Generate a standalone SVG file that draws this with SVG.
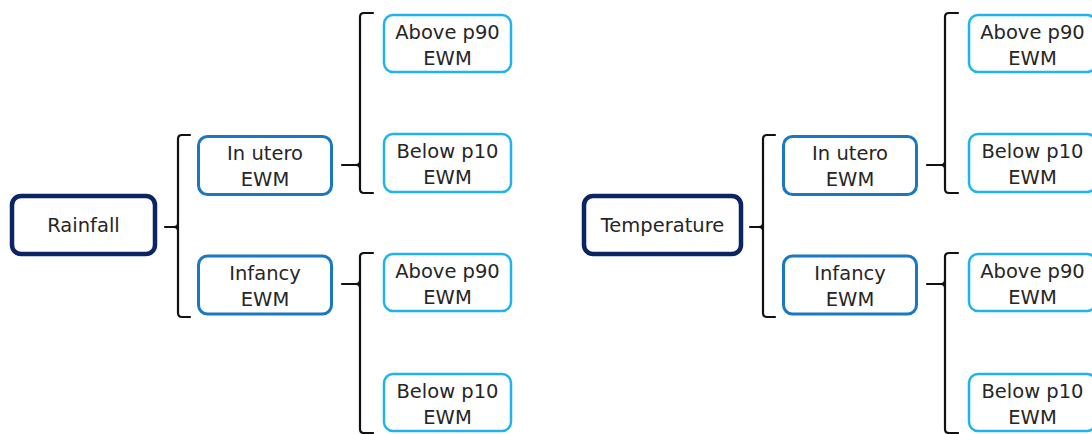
<svg xmlns="http://www.w3.org/2000/svg" width="1092" height="434" viewBox="0 0 1092 434">
  <style>
    .root { fill: #ffffff; stroke: #0b2463; stroke-width: 4.5; }
    .mid { fill: #ffffff; stroke: #1a78c2; stroke-width: 3; }
    .leaf { fill: #ffffff; stroke: #1fb4ee; stroke-width: 2.5; }
    .brace { fill: none; stroke: #111111; stroke-width: 2.2; stroke-linecap: round; stroke-linejoin: round; }
    text { font-family: "DejaVu Sans", "Liberation Sans", sans-serif; font-size: 19.5px; fill: #262626; text-anchor: middle; }
  </style>

  <!-- connectors: square brackets with a small pointed nub toward the parent -->
  <g id="connectors">
    <!-- Rainfall tree -->
    <path class="brace" d="M190,135 H182 Q178,135 178,139 V313 Q178,317 182,317 H190 M165,227 H174 Q178,227 178,223 M174,227 Q178,227 178,231"/>
    <path class="brace" d="M373,13 H364 Q360,13 360,17 V189 Q360,193 364,193 H373 M342,165 H356 Q360,165 360,161 M356,165 Q360,165 360,169"/>
    <path class="brace" d="M373,253 H364 Q360,253 360,257 V429 Q360,433 364,433 H373 M342,284 H356 Q360,284 360,280 M356,284 Q360,284 360,288"/>
    <!-- Temperature tree -->
    <path class="brace" d="M775,135 H767 Q763,135 763,139 V313 Q763,317 767,317 H775 M750,227 H759 Q763,227 763,223 M759,227 Q763,227 763,231"/>
    <path class="brace" d="M958,13 H949 Q945,13 945,17 V189 Q945,193 949,193 H958 M927,165 H941 Q945,165 945,161 M941,165 Q945,165 945,169"/>
    <path class="brace" d="M958,253 H949 Q945,253 945,257 V429 Q945,433 949,433 H958 M927,284 H941 Q945,284 945,280 M941,284 Q945,284 945,288"/>
  </g>

  <!-- Rainfall tree -->
  <g id="rainfall">
    <rect class="root" x="12" y="196" width="143" height="58" rx="9"/>
    <text x="83.5" y="232">Rainfall</text>
  </g>
  <g id="rain-utero">
    <rect class="mid" x="198.5" y="136.5" width="133" height="58" rx="9"/>
    <text x="265" y="160">In utero</text>
    <text x="265" y="186">EWM</text>
  </g>
  <g id="rain-infancy">
    <rect class="mid" x="198.5" y="256" width="133" height="58" rx="9"/>
    <text x="265" y="280">Infancy</text>
    <text x="265" y="306">EWM</text>
  </g>
  <g id="rain-utero-above">
    <rect class="leaf" x="384" y="15" width="127" height="57" rx="9"/>
    <text x="447.5" y="39">Above p90</text>
    <text x="447.5" y="65">EWM</text>
  </g>
  <g id="rain-utero-below">
    <rect class="leaf" x="384" y="134" width="127" height="58" rx="9"/>
    <text x="447.5" y="158">Below p10</text>
    <text x="447.5" y="184">EWM</text>
  </g>
  <g id="rain-infancy-above">
    <rect class="leaf" x="384" y="254" width="127" height="57" rx="9"/>
    <text x="447.5" y="278">Above p90</text>
    <text x="447.5" y="304">EWM</text>
  </g>
  <g id="rain-infancy-below">
    <rect class="leaf" x="384" y="374" width="127" height="57" rx="9"/>
    <text x="447.5" y="398">Below p10</text>
    <text x="447.5" y="424">EWM</text>
  </g>

  <!-- Temperature tree -->
  <g id="temperature">
    <rect class="root" x="584" y="196" width="157" height="58" rx="9"/>
    <text x="662.5" y="232">Temperature</text>
  </g>
  <g id="temp-utero">
    <rect class="mid" x="783.5" y="136.5" width="133" height="58" rx="9"/>
    <text x="850" y="160">In utero</text>
    <text x="850" y="186">EWM</text>
  </g>
  <g id="temp-infancy">
    <rect class="mid" x="783.5" y="256" width="133" height="58" rx="9"/>
    <text x="850" y="280">Infancy</text>
    <text x="850" y="306">EWM</text>
  </g>
  <g id="temp-utero-above">
    <rect class="leaf" x="969" y="15" width="127" height="57" rx="9"/>
    <text x="1032.5" y="39">Above p90</text>
    <text x="1032.5" y="65">EWM</text>
  </g>
  <g id="temp-utero-below">
    <rect class="leaf" x="969" y="134" width="127" height="58" rx="9"/>
    <text x="1032.5" y="158">Below p10</text>
    <text x="1032.5" y="184">EWM</text>
  </g>
  <g id="temp-infancy-above">
    <rect class="leaf" x="969" y="254" width="127" height="57" rx="9"/>
    <text x="1032.5" y="278">Above p90</text>
    <text x="1032.5" y="304">EWM</text>
  </g>
  <g id="temp-infancy-below">
    <rect class="leaf" x="969" y="374" width="127" height="57" rx="9"/>
    <text x="1032.5" y="398">Below p10</text>
    <text x="1032.5" y="424">EWM</text>
  </g>
</svg>
